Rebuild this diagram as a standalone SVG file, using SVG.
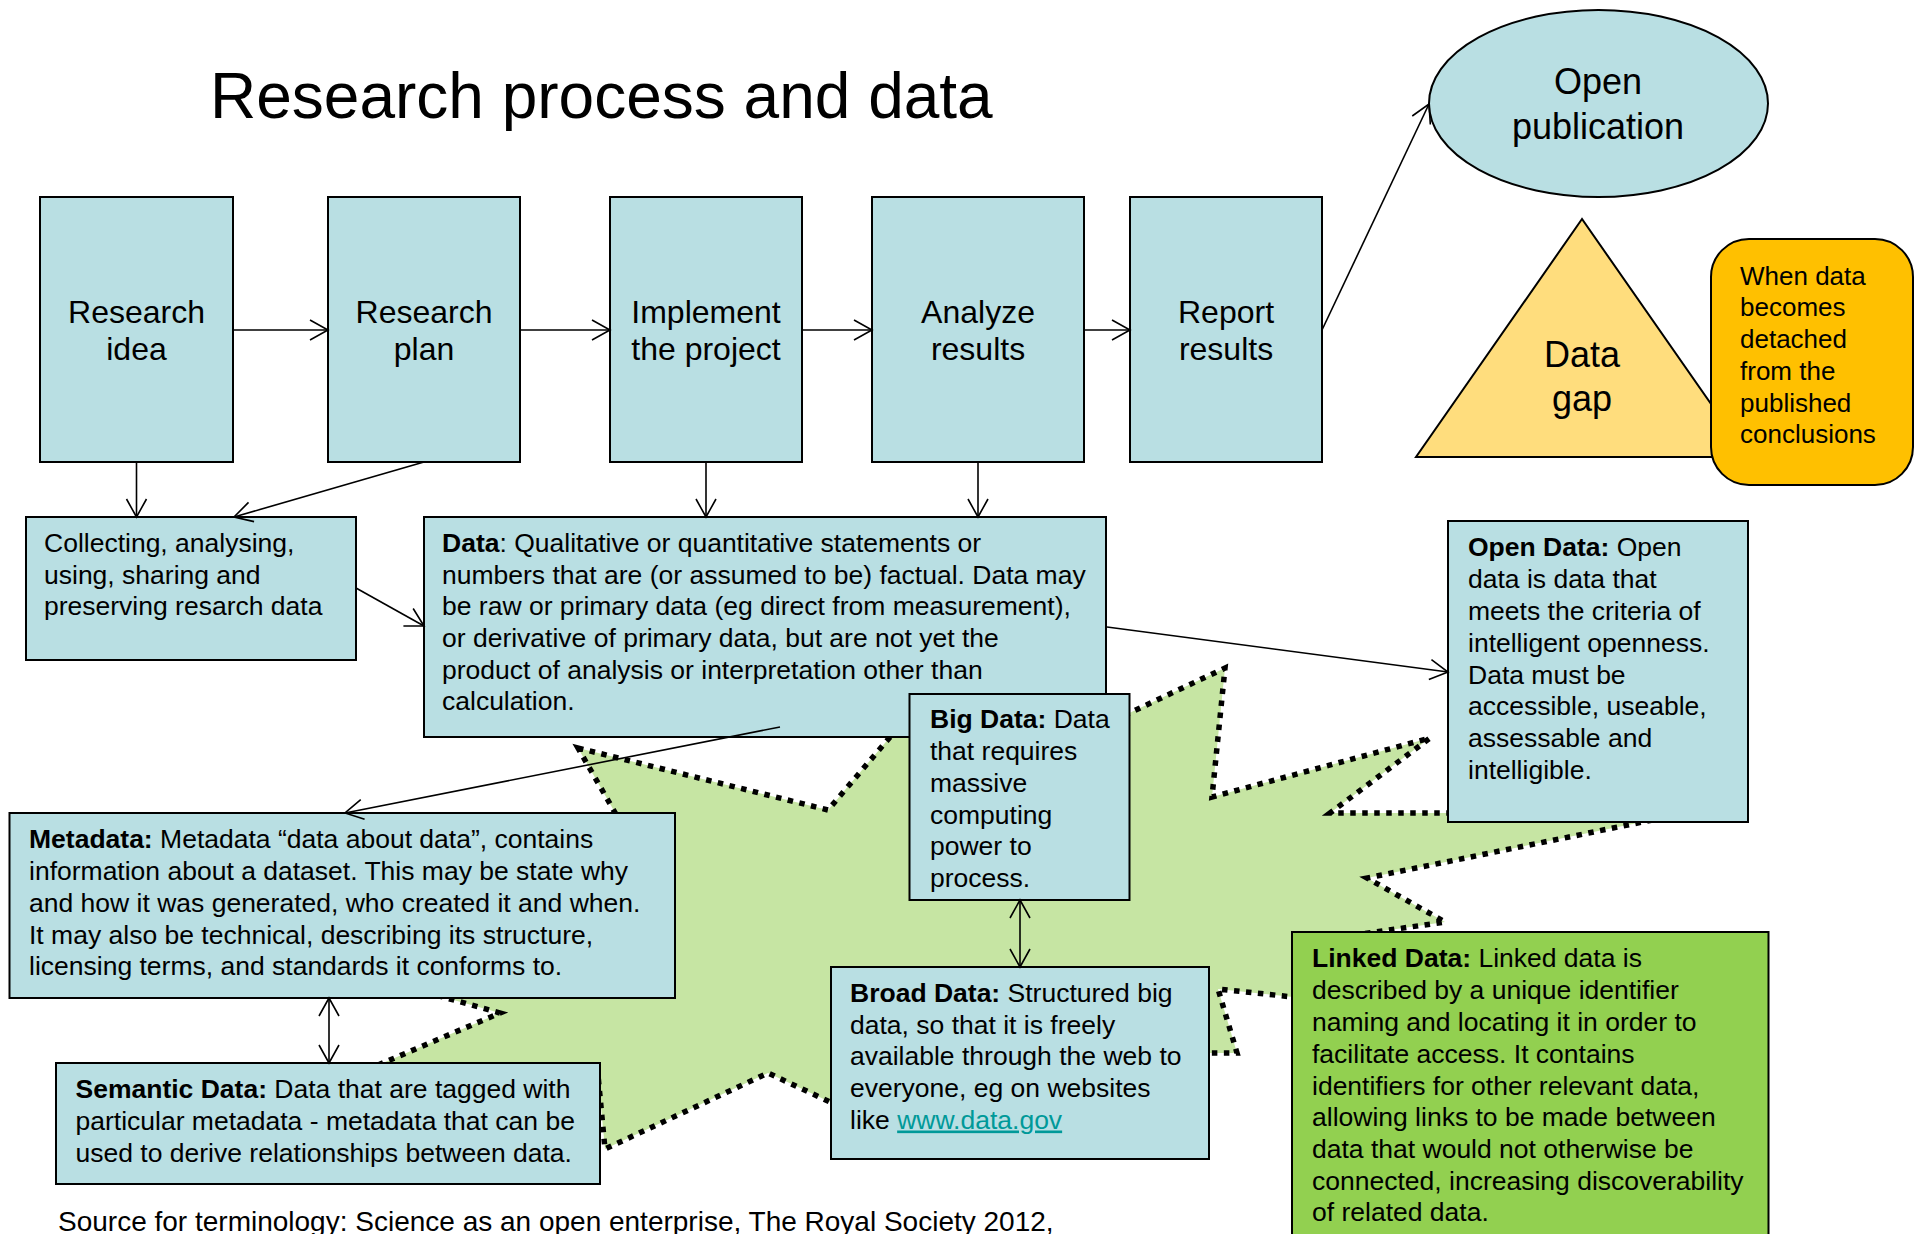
<svg xmlns="http://www.w3.org/2000/svg" width="1915" height="1234" viewBox="0 0 1915 1234">
<style>
text{font-family:"Liberation Sans",Arial,sans-serif;fill:#000}
.t{font-size:26.5px}
.big{font-size:32px;text-anchor:middle}
.box{fill:#B9DFE3;stroke:#000;stroke-width:2}
.ln{fill:none;stroke:#000;stroke-width:1.6}
.b{font-weight:bold}
</style>
<defs>
<marker id="arr" markerWidth="22" markerHeight="24" refX="19" refY="11" orient="auto-start-reverse" markerUnits="userSpaceOnUse" overflow="visible">
<path d="M1,1 L19,11 L1,21" fill="none" stroke="#000" stroke-width="1.6"/>
</marker>
</defs>
<rect width="1915" height="1234" fill="#fff"/>

<g id="star">
<polygon points="578,748 828,810 930,690 1040,755 1225,668 1212,797 1430,738 1330,813 1687,813 1367,878 1445,922 1320,940 1330,1001 1218,989 1237,1053 1200,1053 905,1137 768,1073 605,1149 598,1075 350,1077 500,1013 400,985 625,830" fill="#C6E5A3" stroke="#000" stroke-width="5.5" stroke-dasharray="5.5 6.5" stroke-linejoin="miter"/>
</g>

<text x="210" y="118" style="font-size:64px">Research process and data</text>

<g id="research-idea">
<rect class="box" x="40" y="197" width="193" height="265"/>
<text class="big" x="136.5" y="323">Research</text>
<text class="big" x="136.5" y="360">idea</text>
</g>
<g id="research-plan">
<rect class="box" x="328" y="197" width="192" height="265"/>
<text class="big" x="424" y="323">Research</text>
<text class="big" x="424" y="360">plan</text>
</g>
<g id="implement">
<rect class="box" x="610" y="197" width="192" height="265"/>
<text class="big" x="706" y="323">Implement</text>
<text class="big" x="706" y="360">the project</text>
</g>
<g id="analyze">
<rect class="box" x="872" y="197" width="212" height="265"/>
<text class="big" x="978" y="323">Analyze</text>
<text class="big" x="978" y="360">results</text>
</g>
<g id="report">
<rect class="box" x="1130" y="197" width="192" height="265"/>
<text class="big" x="1226" y="323">Report</text>
<text class="big" x="1226" y="360">results</text>
</g>

<g id="open-publication">
<ellipse cx="1598.5" cy="103.5" rx="169.5" ry="93.5" fill="#B9DFE3" stroke="#000" stroke-width="2"/>
<text x="1598" y="94" style="font-size:36px;text-anchor:middle">Open</text>
<text x="1598" y="139" style="font-size:36px;text-anchor:middle">publication</text>
</g>

<g id="data-gap">
<polygon points="1582,219 1416,457 1748,457" fill="#FFDD7D" stroke="#000" stroke-width="2"/>
<text x="1582" y="367" style="font-size:36px;text-anchor:middle">Data</text>
<text x="1582" y="411" style="font-size:36px;text-anchor:middle">gap</text>
</g>

<g id="detached">
<rect x="1711" y="239" width="202" height="246" rx="38" ry="38" fill="#FFC000" stroke="#000" stroke-width="2"/>
<text style="font-size:26px">
<tspan x="1740" y="285">When data</tspan>
<tspan x="1740" y="316">becomes</tspan>
<tspan x="1740" y="348">detached</tspan>
<tspan x="1740" y="380">from the</tspan>
<tspan x="1740" y="412">published</tspan>
<tspan x="1740" y="443">conclusions</tspan>
</text>
</g>

<g id="collecting">
<rect class="box" x="26" y="517" width="330" height="143"/>
<text class="t">
<tspan x="44" y="552">Collecting, analysing,</tspan>
<tspan x="44" y="583.5">using, sharing and</tspan>
<tspan x="44" y="615">preserving resarch data</tspan>
</text>
</g>

<g id="data">
<rect class="box" x="424" y="517" width="682" height="220"/>
<text class="t">
<tspan x="442" y="552"><tspan class="b">Data</tspan>: Qualitative or quantitative statements or</tspan>
<tspan x="442" y="583.5">numbers that are (or assumed to be) factual. Data may</tspan>
<tspan x="442" y="615">be raw or primary data (eg direct from measurement),</tspan>
<tspan x="442" y="647">or derivative of primary data, but are not yet the</tspan>
<tspan x="442" y="678.5">product of analysis or interpretation other than</tspan>
<tspan x="442" y="710">calculation.</tspan>
</text>
</g>

<g id="big-data">
<rect class="box" x="909.5" y="694" width="220" height="206"/>
<text class="t">
<tspan x="930" y="728"><tspan class="b">Big Data:</tspan> Data</tspan>
<tspan x="930" y="760">that requires</tspan>
<tspan x="930" y="792">massive</tspan>
<tspan x="930" y="823.5">computing</tspan>
<tspan x="930" y="855">power to</tspan>
<tspan x="930" y="887">process.</tspan>
</text>
</g>

<g id="open-data">
<rect class="box" x="1448" y="521" width="300" height="301"/>
<text class="t">
<tspan x="1468" y="556"><tspan class="b">Open Data:</tspan> Open</tspan>
<tspan x="1468" y="588">data is data that</tspan>
<tspan x="1468" y="620">meets the criteria of</tspan>
<tspan x="1468" y="652">intelligent openness.</tspan>
<tspan x="1468" y="683.5">Data must be</tspan>
<tspan x="1468" y="715">accessible, useable,</tspan>
<tspan x="1468" y="747">assessable and</tspan>
<tspan x="1468" y="778.5">intelligible.</tspan>
</text>
</g>

<g id="metadata">
<rect class="box" x="9.5" y="813" width="665.5" height="185"/>
<text class="t">
<tspan x="29" y="848"><tspan class="b">Metadata:</tspan> Metadata “data about data”, contains</tspan>
<tspan x="29" y="880">information about a dataset. This may be state why</tspan>
<tspan x="29" y="912">and how it was generated, who created it and when.</tspan>
<tspan x="29" y="943.5">It may also be technical, describing its structure,</tspan>
<tspan x="29" y="975">licensing terms, and standards it conforms to.</tspan>
</text>
</g>

<g id="semantic-data">
<rect class="box" x="56" y="1063" width="544" height="121"/>
<text class="t">
<tspan x="75.5" y="1098"><tspan class="b">Semantic Data:</tspan> Data that are tagged with</tspan>
<tspan x="75.5" y="1130">particular metadata - metadata that can be</tspan>
<tspan x="75.5" y="1162">used to derive relationships between data.</tspan>
</text>
</g>

<g id="broad-data">
<rect class="box" x="831" y="967" width="378" height="192"/>
<text class="t">
<tspan x="850" y="1002"><tspan class="b">Broad Data:</tspan> Structured big</tspan>
<tspan x="850" y="1033.5">data, so that it is freely</tspan>
<tspan x="850" y="1065">available through the web to</tspan>
<tspan x="850" y="1097">everyone, eg on websites</tspan>
<tspan x="850" y="1128.5">like <tspan style="fill:#009999;text-decoration:underline">www.data.gov</tspan></tspan>
</text>
</g>

<g id="linked-data">
<rect x="1292" y="932" width="476.5" height="320" fill="#92D050" stroke="#000" stroke-width="2"/>
<text class="t">
<tspan x="1312" y="967"><tspan class="b">Linked Data:</tspan> Linked data is</tspan>
<tspan x="1312" y="999">described by a unique identifier</tspan>
<tspan x="1312" y="1031">naming and locating it in order to</tspan>
<tspan x="1312" y="1063">facilitate access. It contains</tspan>
<tspan x="1312" y="1094.5">identifiers for other relevant data,</tspan>
<tspan x="1312" y="1126">allowing links to be made between</tspan>
<tspan x="1312" y="1158">data that would not otherwise be</tspan>
<tspan x="1312" y="1189.5">connected, increasing discoverability</tspan>
<tspan x="1312" y="1221">of related data.</tspan>
</text>
</g>

<text x="58" y="1231" style="font-size:28px">Source for terminology: Science as an open enterprise, The Royal Society 2012,</text>

<g id="connectors">
<line class="ln" x1="233" y1="330" x2="328" y2="330" marker-end="url(#arr)"/>
<line class="ln" x1="520" y1="330" x2="610" y2="330" marker-end="url(#arr)"/>
<line class="ln" x1="802" y1="330" x2="872" y2="330" marker-end="url(#arr)"/>
<line class="ln" x1="1084" y1="330" x2="1130" y2="330" marker-end="url(#arr)"/>
<line class="ln" x1="1322" y1="330" x2="1429" y2="104" marker-end="url(#arr)"/>
<line class="ln" x1="136.5" y1="462" x2="136.5" y2="517" marker-end="url(#arr)"/>
<line class="ln" x1="424" y1="462" x2="234" y2="517" marker-end="url(#arr)"/>
<line class="ln" x1="706" y1="462" x2="706" y2="517" marker-end="url(#arr)"/>
<line class="ln" x1="978" y1="462" x2="978" y2="517" marker-end="url(#arr)"/>
<line class="ln" x1="356" y1="588" x2="424" y2="626" marker-end="url(#arr)"/>
<line class="ln" x1="780" y1="727" x2="345" y2="813" marker-end="url(#arr)"/>
<line class="ln" x1="1107" y1="627" x2="1448" y2="672" marker-end="url(#arr)"/>
<line class="ln" x1="329" y1="998" x2="329" y2="1063" marker-start="url(#arr)" marker-end="url(#arr)"/>
<line class="ln" x1="1020" y1="900" x2="1020" y2="967" marker-start="url(#arr)" marker-end="url(#arr)"/>
</g>
</svg>
